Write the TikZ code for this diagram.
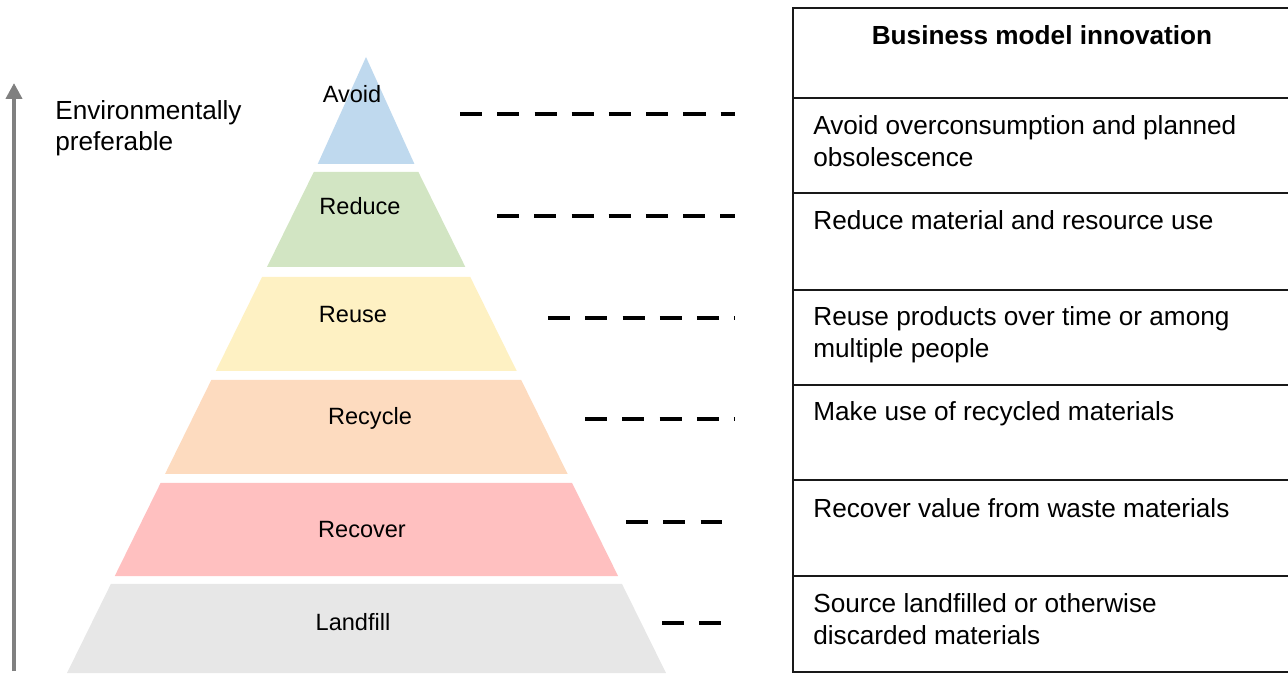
\documentclass[tikz,border=0pt]{standalone}
\usepackage{fontspec}
\setmainfont{Liberation Sans}
\setsansfont{Liberation Sans}
\usetikzlibrary{arrows.meta, calc}
\usepackage{xcolor}
% Layer colours
\definecolor{avoidBlue}{HTML}{BFD9EE}
\definecolor{reduceGreen}{HTML}{D2E5C3}
\definecolor{reuseYellow}{HTML}{FEF1C3}
\definecolor{recyclePeach}{HTML}{FDDBBF}
\definecolor{recoverPink}{HTML}{FFC0C0}
\definecolor{landfillGrey}{HTML}{E7E7E7}
\tikzset{
    font=\sffamily,
    % Pyramid
    lbl/.style={inner sep=0pt, font=\sffamily\fontsize{13.4}{16}\selectfont},
    % Table
    cellText/.style={anchor=north west, align=left, inner sep=0pt,
                     font=\sffamily\fontsize{14.9}{18.1}\selectfont},
    rule/.style={line width=1.2pt, draw=black!90},
    % Links & axis
    link/.style={line width=2.7pt, dash pattern=on 12.6pt off 8.6pt},
    axis/.style={-{Triangle[length=9pt,width=9pt]}, line width=2.2pt, gray}
}

\begin{document}
\begin{tikzpicture}[x=0.02cm, y=-0.02cm]
\useasboundingbox (0,0) rectangle (1288,675);

% Axis
\coordinate (axisLow) at (14,671);
\coordinate (axisHigh) at (14,83);
\draw[axis] (axisLow) -- (axisHigh);
\node[cellText, font=\sffamily\fontsize{14.9}{17.6}\selectfont] (pref) at (55,100.6) {Environmentally\\preferable};

% Pyramid: sides meet at (366,66), top tip sits at (366,57)
\coordinate (apex) at (366,66);
\coordinate (baseL) at (67,673);
\coordinate (baseR) at (666,673);
\fill[avoidBlue] (366,57) -- ($(apex)!98/607!(baseL)$) -- ($(apex)!98/607!(baseR)$) -- cycle;
\foreach \ya/\yb/\col in {172/267/reduceGreen, 277/371/reuseYellow,
                          380/474/recyclePeach, 483/576/recoverPink, 584/673/landfillGrey}{
    \pgfmathsetmacro\ta{(\ya-66)/607}
    \pgfmathsetmacro\tb{(\yb-66)/607}
    \fill[\col] ($(apex)!\ta!(baseL)$) -- ($(apex)!\tb!(baseL)$)
        -- ($(apex)!\tb!(baseR)$) -- ($(apex)!\ta!(baseR)$) -- cycle;
}
\node[lbl] (avoid) at (352,94) {Avoid};
\node[lbl] (reduce) at (360,206) {Reduce};
\node[lbl] (reuse) at (353,315) {Reuse};
\node[lbl] (recycle) at (370,418) {Recycle};
\node[lbl] (recover) at (362,530) {Recover};
\node[lbl] (landfill) at (353,622) {Landfill};

% Dashed links
\foreach \i/\xa/\xb/\y in {1/460/735/114, 2/497/735/216, 3/548/735/318,
                           4/585/735/419, 5/626/722/522, 6/662/721/623}{
    \coordinate (linkL\i) at (\xa,\y);
    \coordinate (linkR\i) at (\xb,\y);
    \draw[link] (linkL\i) -- (linkR\i);
}

% Table
\draw[rule] (793,8) rectangle (1291,672);
\foreach \y in {98,193,290,385,480,576}
    \draw[rule] (793,\y) -- (1291,\y);
\node[font=\sffamily\bfseries\fontsize{14.9}{18.1}\selectfont, inner sep=0pt] (head) at (1042,35) {Business model innovation};
\node[cellText] (rowAvoid) at (813,115.6) {Avoid overconsumption and planned\\obsolescence};
\node[cellText] (rowReduce) at (813,210.6) {Reduce material and resource use};
\node[cellText] (rowReuse) at (813,306.6) {Reuse products over time or among\\multiple people};
\node[cellText] (rowRecycle) at (813,401.6) {Make use of recycled materials};
\node[cellText] (rowRecover) at (813,498.6) {Recover value from waste materials};
\node[cellText] (rowLandfill) at (813,593.6) {Source landfilled or otherwise\\discarded materials};

\end{tikzpicture}
\end{document}
